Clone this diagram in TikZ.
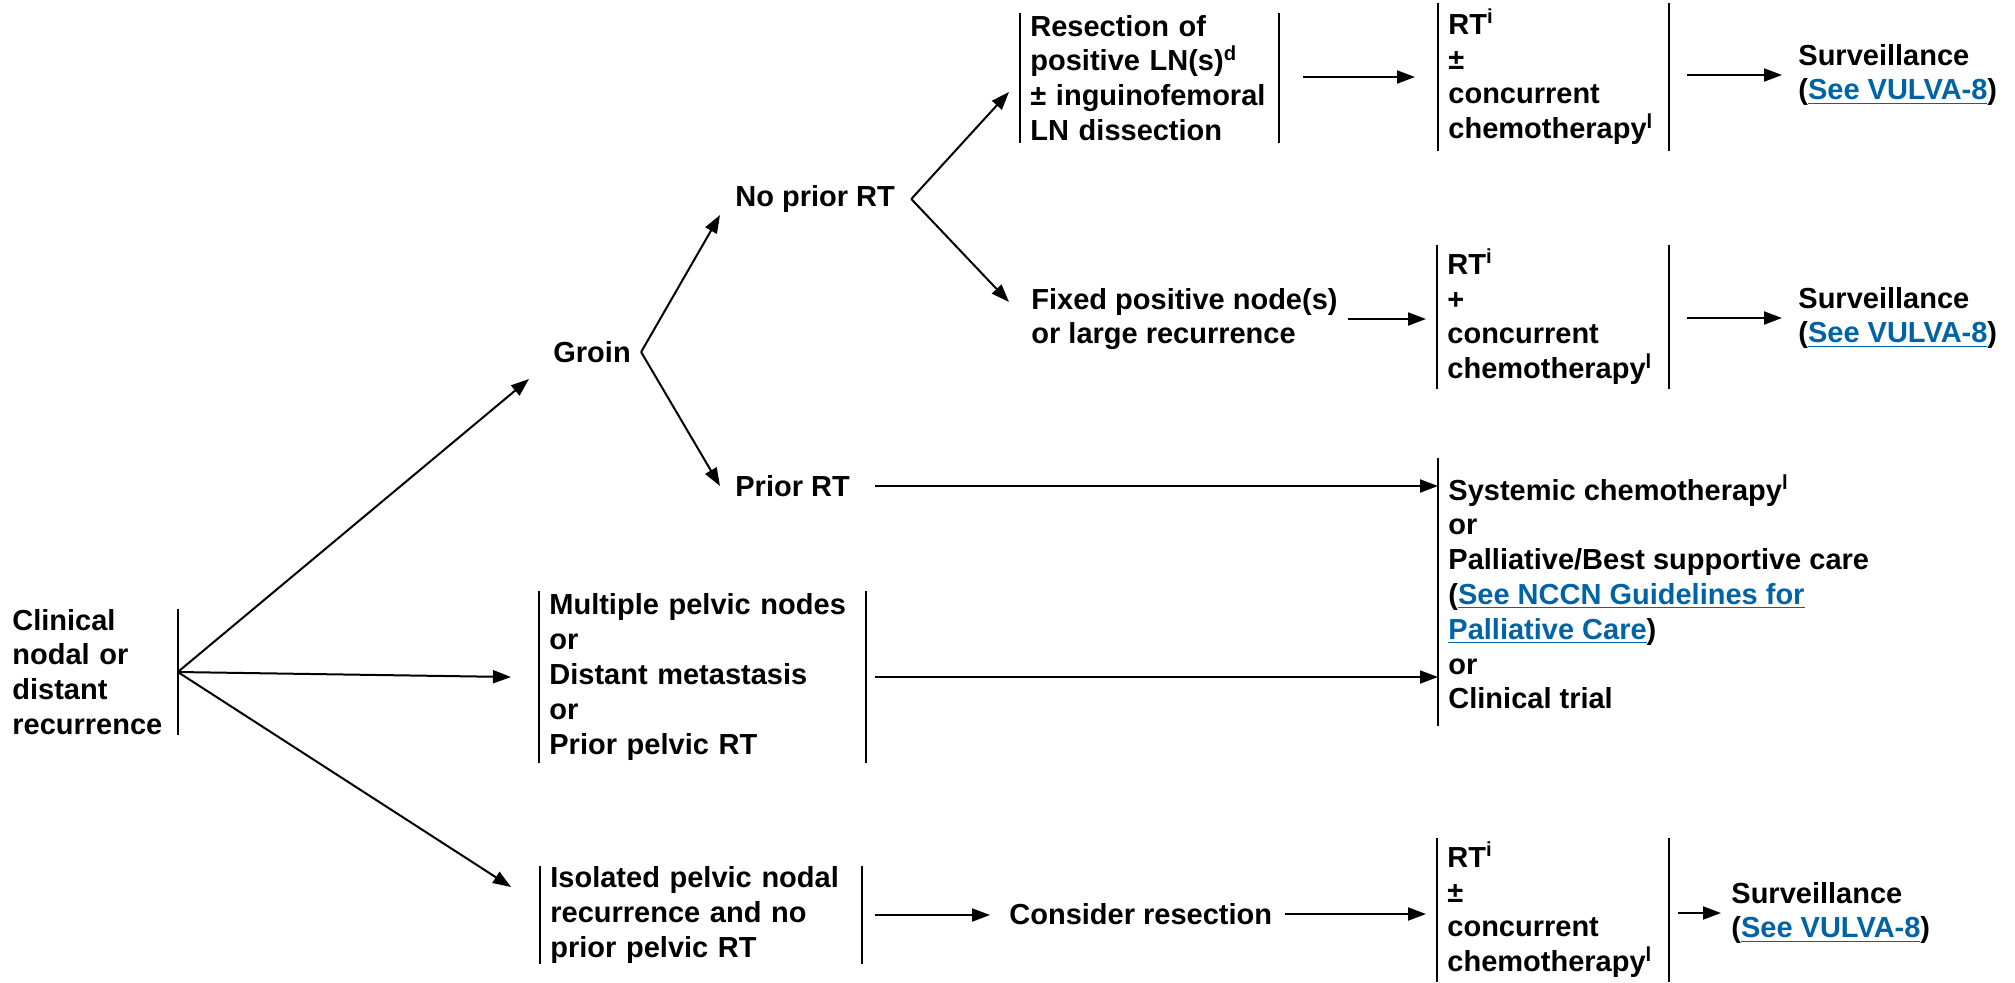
\documentclass[tikz,border=0pt]{standalone}
\usepackage{fontspec}
\setmainfont{Liberation Sans}
\usetikzlibrary{arrows.meta,calc}
\definecolor{link}{HTML}{0063A6}
\newcommand{\lnk}[1]{\textcolor{link}{\underline{#1}}}
\tikzset{
  txt/.style={align=left,anchor=west,inner xsep=5pt,inner ysep=0pt,
    font=\fontsize{14.5pt}{17.4pt}\selectfont\bfseries},
  box/.style={txt,inner ysep=2pt},
  bar/.style={black,line width=1pt},
  pfeil/.style={-{Triangle[length=9pt,width=6.5pt]},black,line width=1pt},
}
\begin{document}
\begin{tikzpicture}[x=0.5pt,y=-0.5pt]
  \useasboundingbox (0,0) rectangle (2015,982);
  % linke Spalte
  \node[box,text width=77.5pt,inner ysep=0pt] (clin) at (2,672) {Clinical\\nodal or\\distant\\recurrence};
  \node[txt] (groin) at (543,352) {Groin};
  \node[txt] (nopri) at (725,199) {No prior RT};
  \node[txt] (prior) at (725,486) {Prior RT};
  \node[box,text width=153pt,inner ysep=1pt] (mul) at (539,677) {Multiple pelvic nodes\\or\\Distant metastasis\\or\\Prior pelvic RT};
  \node[box,text width=150.5pt,inner ysep=0pt] (iso) at (540,915) {Isolated pelvic nodal\\recurrence and no\\prior pelvic RT};
  % mittlere Spalte
  \node[box,text width=119pt,inner ysep=1pt] (res) at (1020,78) {Resection of\\positive LN(s)\textsuperscript{d}\\±~inguinofemoral\\LN dissection};
  \node[txt] (fix) at (1021,319) {Fixed positive node(s)\\or large recurrence};
  \node[txt] (con) at (999,914) {Consider resection};
  % rechte Spalte
  \node[box,text width=105pt,inner ysep=3pt] (rta) at (1438,77) {RT\textsuperscript{i}\\±\\concurrent\\chemotherapy\textsuperscript{l}};
  \node[box,text width=105.5pt] (rtb) at (1437,317) {RT\textsuperscript{i}\\+\\concurrent\\chemotherapy\textsuperscript{l}};
  \node[box,text width=105.5pt] (rtc) at (1437,910) {RT\textsuperscript{i}\\±\\concurrent\\chemotherapy\textsuperscript{l}};
  \node[box,inner ysep=8pt] (sys) at (1438,592) {Systemic chemotherapy\textsuperscript{l}\\or\\Palliative/Best supportive care\\(\lnk{See NCCN Guidelines for}\\\lnk{Palliative Care})\\or\\Clinical trial};
  \node[txt] (sura) at (1788,75) {Surveillance\\(\lnk{See VULVA-8})};
  \node[txt] (surb) at (1788,318) {Surveillance\\(\lnk{See VULVA-8})};
  \node[txt] (surc) at (1721,913) {Surveillance\\(\lnk{See VULVA-8})};
  % Balken
  \foreach \n in {res,rta,rtb,rtc,mul,iso}
    \draw[bar] (\n.north west) -- (\n.south west) (\n.north east) -- (\n.south east);
  \draw[bar] (clin.north east) -- (clin.south east);
  \draw[bar] (sys.north west) -- (sys.south west);
  % Verzweigungen
  \draw[pfeil] (clin.east) -- ([xshift=-7pt,yshift=-13.5pt]groin.west);
  \draw[pfeil] (clin.east) -- ([xshift=-14pt]mul.west);
  \draw[pfeil] (clin.east) -- ([xshift=-14.5pt,yshift=14pt]iso.west);
  \draw[pfeil] (groin.east) -- ([xshift=-2.5pt,yshift=-8pt]nopri.west);
  \draw[pfeil] (groin.east) -- ([xshift=-2.5pt]prior.west);
  \draw[pfeil] ([xshift=3pt]nopri.east) -- ([xshift=-5.5pt,yshift=-7pt]res.west);
  \draw[pfeil] ([xshift=3pt]nopri.east) -- ([xshift=-6pt,yshift=8.5pt]fix.west);
  % Pfeile
  \draw[pfeil,shorten <=12pt,shorten >=11.5pt] (rta.west -| res.east) -- (rta.west);
  \draw[pfeil,shorten <=9pt,shorten >=3pt] (sura.west -| rta.east) -- (sura.west);
  \draw[pfeil,shorten >=5.5pt] (fix.east) -- (fix.east -| rtb.west);
  \draw[pfeil,shorten <=9pt,shorten >=3pt] (surb.west -| rtb.east) -- (surb.west);
  \draw[pfeil,shorten <=7.5pt] (prior.east) -- (prior.east -| sys.west);
  \draw[pfeil,shorten <=4.5pt] (mul.east) -- (mul.east -| sys.west);
  \draw[pfeil,shorten <=6.5pt,shorten >=4.5pt] (iso.east) -- (iso.east -| con.west);
  \draw[pfeil,shorten <=1.5pt,shorten >=5.5pt] (con.east) -- (con.east -| rtc.west);
  \draw[pfeil,shorten <=4.5pt] (surc.west -| rtc.east) -- (surc.west);
\end{tikzpicture}
\end{document}
